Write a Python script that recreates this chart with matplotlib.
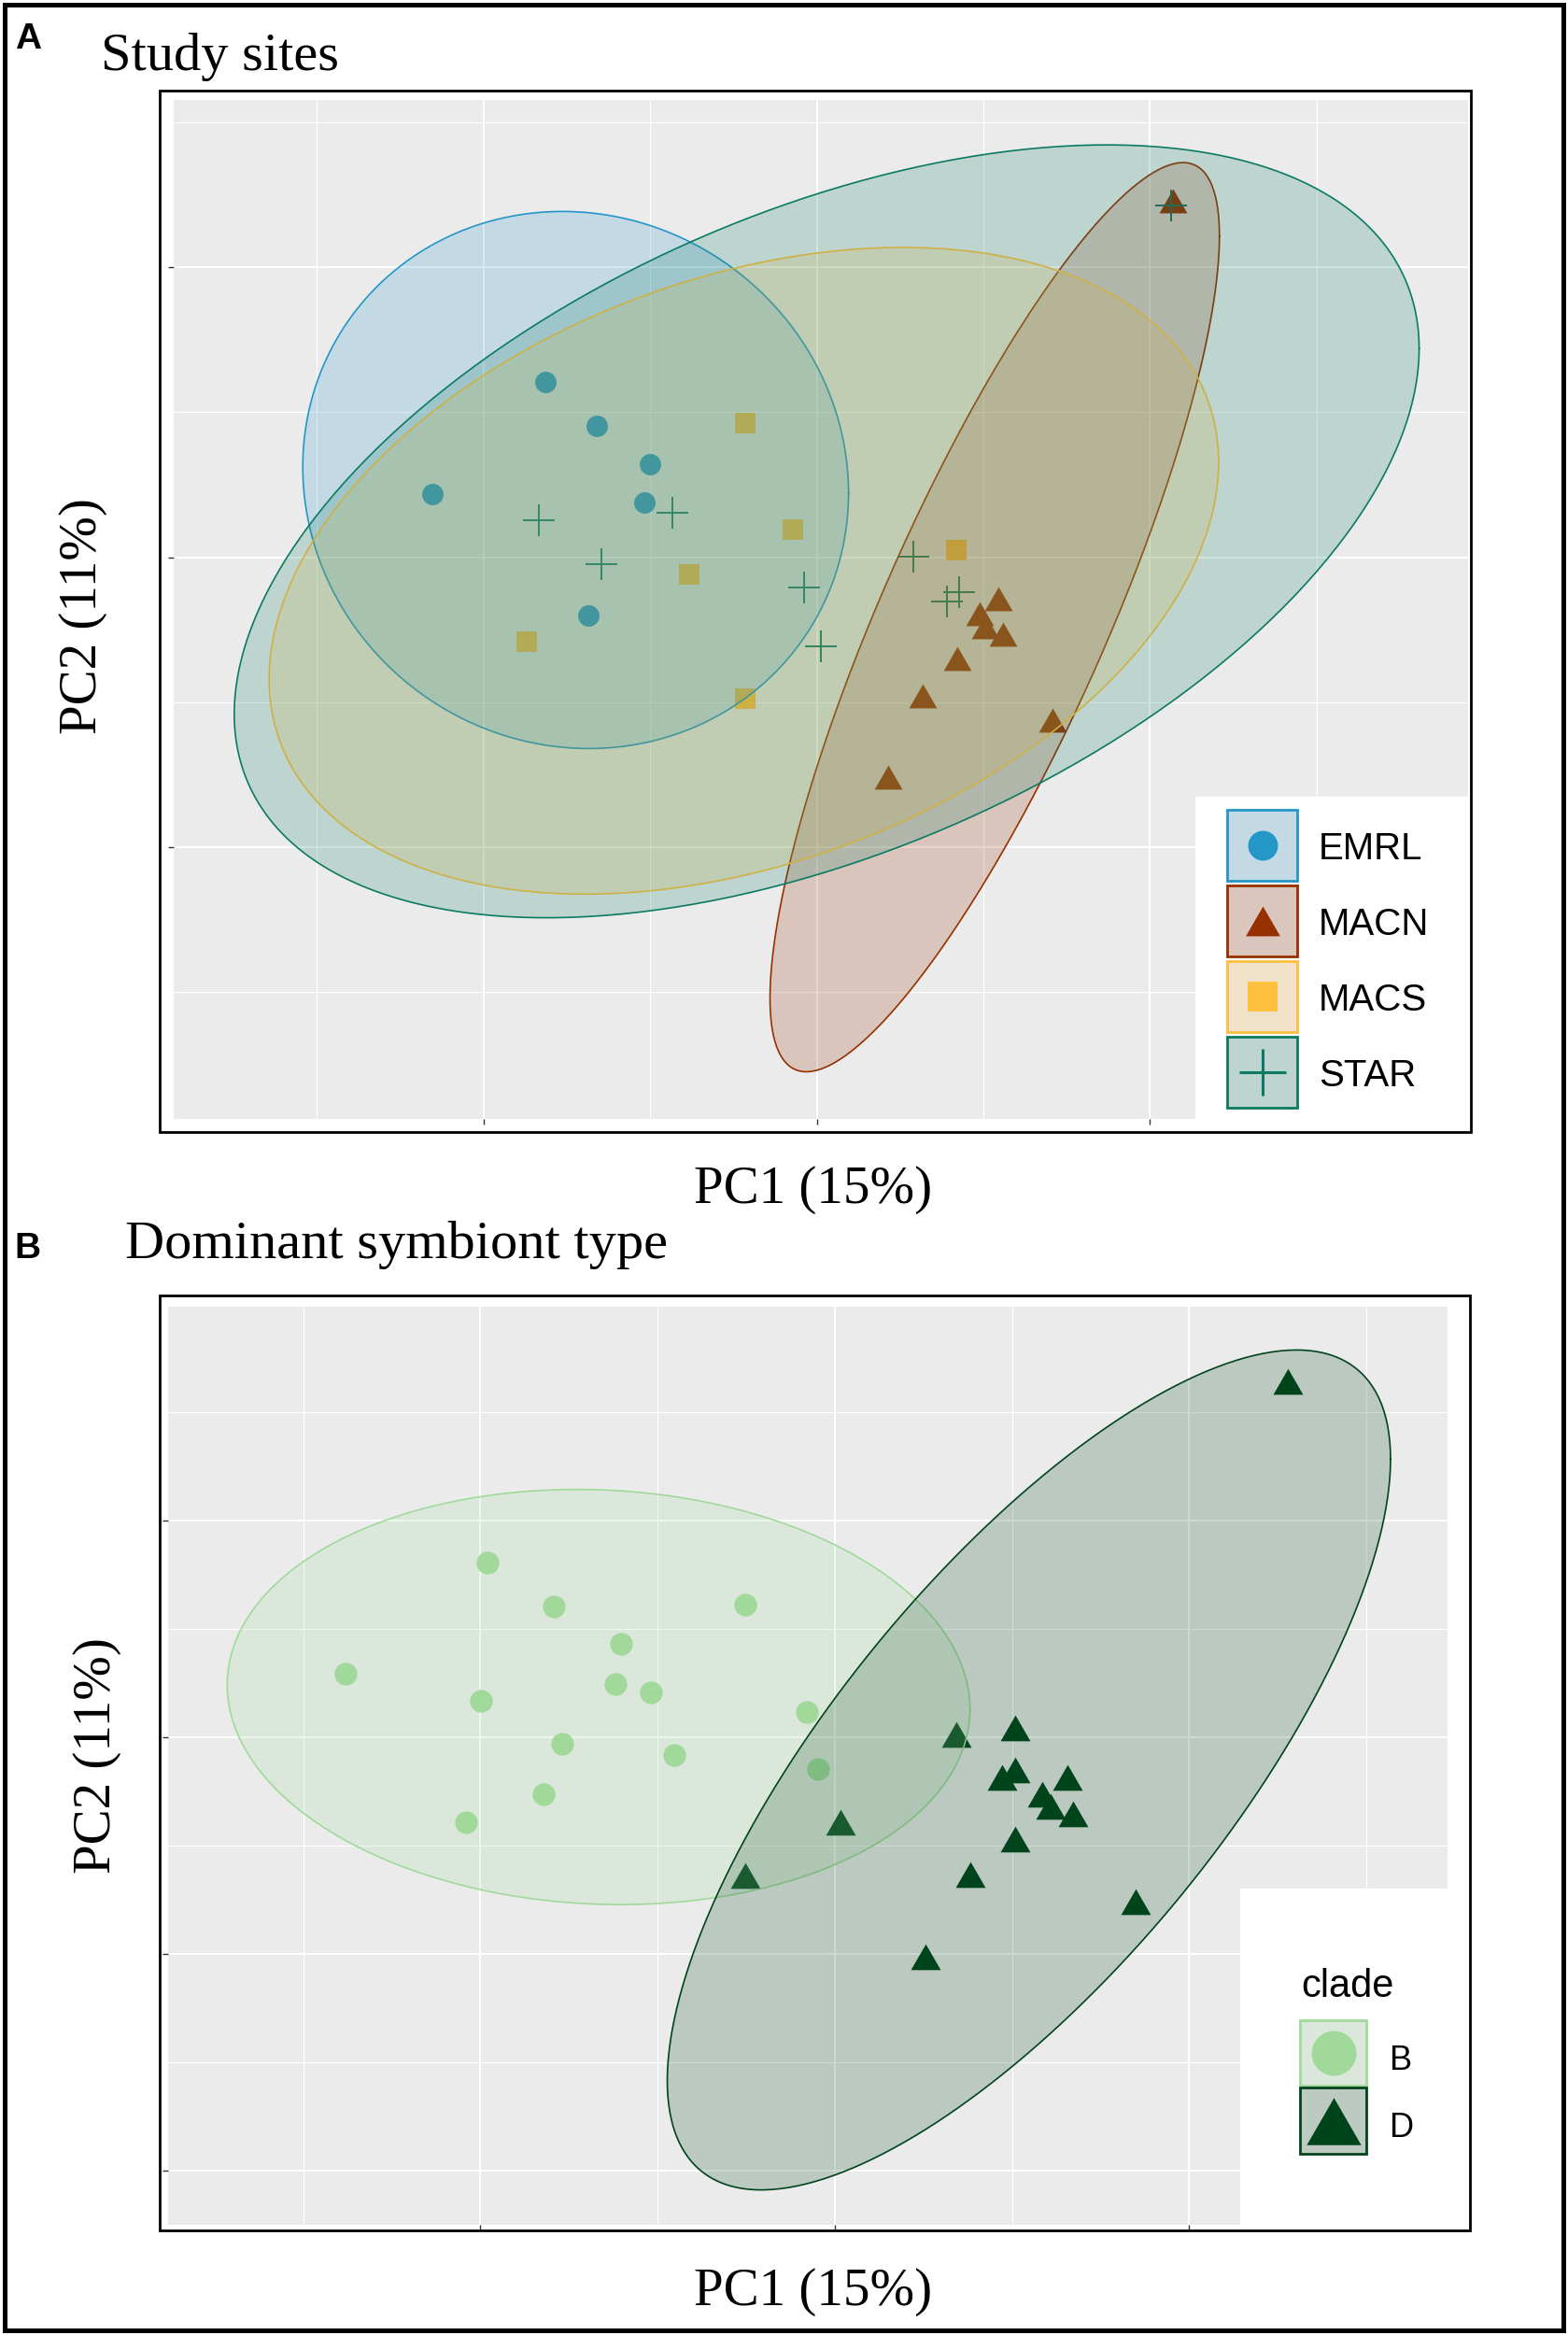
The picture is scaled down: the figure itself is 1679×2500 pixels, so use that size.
import numpy as np
import matplotlib
matplotlib.use("Agg")
import matplotlib.pyplot as plt
from matplotlib.patches import Rectangle
from matplotlib.lines import Line2D
from matplotlib.colors import to_rgb

# ---------------- data: panel A (study sites) ----------------
sites = ["EMRL", "MACN", "MACS", "STAR"]
site_colors = ["#2596c8", "#963000", "#ffbf3f", "#0b7a62"]

emrl_x = [-1.153, -0.813, -0.661, -0.500, -0.516, -0.686]
emrl_y = [0.216, 0.603, 0.452, 0.319, 0.188, -0.200]
macn_x = [0.545, 0.489, 0.506, 0.560, 0.422, 0.317, 0.706, 0.214, 1.068]
macn_y = [-0.143, -0.195, -0.241, -0.266, -0.351, -0.479, -0.562, -0.757, 1.229]
macs_x = [-0.215, -0.071, -0.381, -0.870, -0.215, 0.418]
macs_y = [0.461, 0.094, -0.058, -0.292, -0.488, 0.025]
star_x = [-0.832, -0.432, -0.645, -0.038, 0.013, 0.289, 0.426, 0.392, 1.063]
star_y = [0.128, 0.153, -0.023, -0.106, -0.308, 0.001, -0.121, -0.152, 1.213]

# ellipse (centre, half extents, correlation) per site
ellA_cx = [-0.723, 0.534, -0.2185, 0.030]
ellA_cy = [0.266, -0.207, -0.047, 0.089]
ellA_hx = [0.8185, 0.674, 1.424, 1.777]
ellA_hy = [0.926, 1.5675, 1.115, 1.3325]
ellA_rho = [-0.0486, 0.838, 0.335, 0.473]

# ---------------- data: panel B (dominant symbiont type) ----------------
clades = ["B", "D"]
clade_colors = ["#a1d99b", "#00441b"]

cladeB_x = [-0.980, -0.793, -0.252, -0.602, -1.380, -0.618, -0.519,
            -0.998, -0.079, -0.770, -0.454, -0.046, -0.823, -1.040]
cladeB_y = [0.805, 0.602, 0.610, 0.429, 0.294, 0.244, 0.206,
            0.170, 0.118, -0.030, -0.080, -0.146, -0.261, -0.393]
cladeD_x = [0.344, 0.508, 0.508, 0.473, 0.656, 0.585, 0.609, 0.673,
            0.508, 0.017, -0.254, 0.382, 0.256, 1.279, 0.849]
cladeD_y = [0.011, 0.043, -0.153, -0.187, -0.187, -0.263, -0.319, -0.355,
            -0.470, -0.393, -0.638, -0.635, -1.012, 1.641, -0.759]

ellB_cx = [-0.6665, 0.5477]
ellB_cy = [0.1856, -0.151]
ellB_hx = [1.048, 1.0204]
ellB_hy = [0.958, 1.938]
ellB_rho = [-0.0585, 0.740]

xlab = "PC1 (15%)"
ylab = "PC2 (11%)"
titleA = "Study sites"
titleB = "Dominant symbiont type"

# ---------------- helpers ----------------
W, H = 1679, 2500
fig = plt.figure(figsize=(W / 100, H / 100), dpi=100)
SERIF = "Liberation Serif"
SANS = "Liberation Sans"
TRI = [(-0.5, -0.433), (0.5, -0.433), (0.0, 0.433)]


def fx(px):
    return px / W


def fy(py):
    return 1 - py / H


def fbox(x0, y0, x1, y1):
    return [fx(x0), fy(y1), (x1 - x0) / W, (y1 - y0) / H]


def blend(c, a, bg=(235 / 255, 235 / 255, 235 / 255)):
    rgb = to_rgb(c)
    return tuple(a * ci + (1 - a) * bi for ci, bi in zip(rgb, bg))


def ellipse(cx, cy, hx, hy, rho, n=400):
    t = np.linspace(0, 2 * np.pi, n)
    return (cx + hx * np.cos(t),
            cy + hy * (rho * np.cos(t) + np.sqrt(1 - rho ** 2) * np.sin(t)))


def style_axes(ax, xmaj, xmin, ymaj, ymin, xlim, ylim):
    ax.set_facecolor("#ebebeb")
    ax.set_xlim(xlim)
    ax.set_ylim(ylim)
    ax.set_xticks(xmaj)
    ax.set_xticks(xmin, minor=True)
    ax.set_yticks(ymaj)
    ax.set_yticks(ymin, minor=True)
    ax.set_xticklabels([])
    ax.set_yticklabels([])
    ax.grid(which="major", color="white", lw=1.5)
    ax.grid(which="minor", color="white", lw=0.8)
    ax.set_axisbelow(True)
    ax.tick_params(which="major", direction="out", length=4.5, width=1.0,
                   color="#333333")
    ax.tick_params(which="minor", length=0)
    for s in ax.spines.values():
        s.set_visible(False)


def frame(x0, y0, x1, y1, lw=2.0, z=5):
    fig.add_artist(Rectangle((fx(x0), fy(y1)), (x1 - x0) / W, (y1 - y0) / H,
                             transform=fig.transFigure, fill=False,
                             edgecolor="black", lw=lw, zorder=z))


def white_box(x0, y0, x1, y1):
    fig.add_artist(Rectangle((fx(x0), fy(y1)), (x1 - x0) / W, (y1 - y0) / H,
                             transform=fig.transFigure, facecolor="white",
                             edgecolor="none", zorder=2))


def key(x0, y0, x1, y1, color, marker, ms, mew=0.0, lw=2.0):
    fig.add_artist(Rectangle((fx(x0), fy(y1)), (x1 - x0) / W, (y1 - y0) / H,
                             transform=fig.transFigure,
                             facecolor=blend(color, 0.2), edgecolor=color,
                             lw=lw, zorder=3))
    fig.add_artist(Line2D([fx((x0 + x1) / 2)], [fy((y0 + y1) / 2)],
                          transform=fig.transFigure, ls="none", marker=marker,
                          ms=ms, color=color, mew=mew, zorder=4))


# ---------------- panel A ----------------
axA = fig.add_axes(fbox(186, 107, 1572, 1198))
style_axes(axA, [-1, 0, 1], [-1.5, -0.5, 0.5, 1.5],
           [-1, 0, 1], [-1.5, -0.5, 0.5, 1.5],
           (-1.9286, 1.9538), (-1.9372, 1.5765))

site_x = [emrl_x, macn_x, macs_x, star_x]
site_y = [emrl_y, macn_y, macs_y, star_y]
site_mk = ["o", TRI, "s", "+"]
site_ms = [16.5, 21.5, 16, 24]
for xs, ys, c, m, ms in zip(site_x, site_y, site_colors, site_mk, site_ms):
    if m == "+":
        axA.plot(xs, ys, ls="none", marker=m, ms=ms, mew=1.4, color=c, zorder=2)
    else:
        axA.plot(xs, ys, ls="none", marker=m, ms=ms, mew=0, color=c, zorder=2)

for i, c in enumerate(site_colors):
    ex, ey = ellipse(ellA_cx[i], ellA_cy[i], ellA_hx[i], ellA_hy[i], ellA_rho[i])
    axA.fill(ex, ey, facecolor=c, alpha=0.2, edgecolor="none", zorder=3)
    axA.plot(ex, ey, color=c, lw=1.2, zorder=3)

frame(171, 97, 1575, 1212)
white_box(1280, 853, 1573, 1210)
keyA_tops = [867, 948, 1029, 1110]
keyA_ms = [23, 26.5, 23.5, 36]
for top, c, m, ms, lab in zip(keyA_tops, site_colors, site_mk, keyA_ms, sites):
    key(1314, top, 1389, top + 76, c, m, ms, mew=(2.2 if m == "+" else 0))
    fig.text(fx(1412), fy(top + 38 + 15), lab, family=SANS, fontsize=29,
             ha="left", va="baseline", zorder=4)

fig.text(fx(16), fy(52), "A", family=SANS, fontweight="bold", fontsize=28,
         ha="left", va="baseline")
fig.text(fx(108), fy(75), titleA, family=SERIF, fontsize=42, ha="left",
         va="baseline")
fig.text(fx(871), fy(1288), xlab, family=SERIF, fontsize=41, ha="center",
         va="baseline")
fig.text(fx(89), fy(660), ylab, family=SERIF, fontsize=41, ha="center",
         va="center", rotation=90)

# ---------------- panel B ----------------
axB = fig.add_axes(fbox(180, 1399, 1550, 2382))
style_axes(axB, [-1, 0, 1], [-1.5, -0.5, 0.5, 1.5],
           [-2, -1, 0, 1], [-1.5, -0.5, 0.5, 1.5],
           (-1.8812, 1.7289), (-2.25, 1.987))

axB.plot(cladeB_x, cladeB_y, ls="none", marker="o", ms=17.5, mew=0,
         color=clade_colors[0], zorder=2)
axB.plot(cladeD_x, cladeD_y, ls="none", marker=TRI, ms=23, mew=0,
         color=clade_colors[1], zorder=2)

for i, c in enumerate(clade_colors):
    ex, ey = ellipse(ellB_cx[i], ellB_cy[i], ellB_hx[i], ellB_hy[i], ellB_rho[i])
    axB.fill(ex, ey, facecolor=c, alpha=0.2, edgecolor="none", zorder=3)
    axB.plot(ex, ey, color=c, lw=1.2, zorder=3)

frame(171, 1387, 1574, 2388)
white_box(1328, 2022, 1550, 2384)
fig.text(fx(1393), fy(2138), "clade", family=SANS, fontsize=30, ha="left",
         va="baseline", zorder=4)
key(1392, 2163, 1463, 2233, clade_colors[0], "o", 34.5)
key(1392, 2235, 1463, 2306, clade_colors[1], TRI, 42)
fig.text(fx(1488), fy(2216), clades[0], family=SANS, fontsize=26, ha="left",
         va="baseline", zorder=4)
fig.text(fx(1488), fy(2288), clades[1], family=SANS, fontsize=26, ha="left",
         va="baseline", zorder=4)

fig.text(fx(15), fy(1347), "B", family=SANS, fontweight="bold", fontsize=28,
         ha="left", va="baseline")
fig.text(fx(134), fy(1347), titleB, family=SERIF, fontsize=42, ha="left",
         va="baseline")
fig.text(fx(871), fy(2468), xlab, family=SERIF, fontsize=41, ha="center",
         va="baseline")
fig.text(fx(104), fy(1880), ylab, family=SERIF, fontsize=41, ha="center",
         va="center", rotation=90)

# outer border
frame(5, 5, 1674, 2495, lw=3.6, z=6)

fig.savefig("out.png", dpi=100)
